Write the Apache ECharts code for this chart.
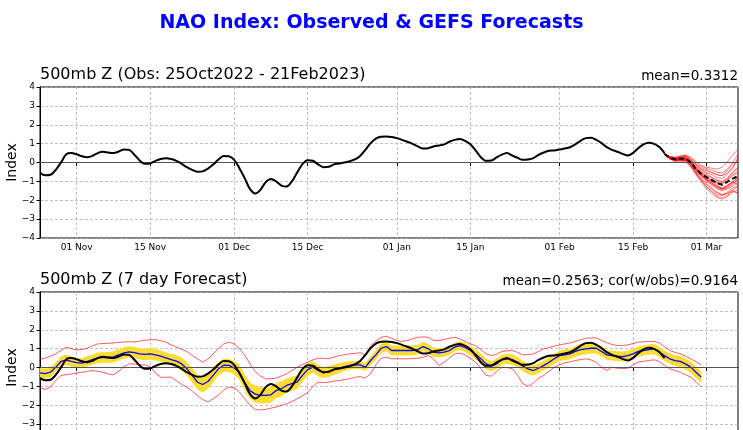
<!DOCTYPE html>
<html><head><meta charset="utf-8">
<script src="https://cdn.jsdelivr.net/npm/echarts@6/dist/echarts.min.js"></script>
<style>html,body{margin:0;padding:0;background:#fff}#c{width:743px;height:430px}</style>
</head><body><div id="c"></div>
<script>
// ---- axis / labels ----
const nDays = 134; // 25 Oct 2022 .. 07 Mar 2023
const tickLabels = ['01 Nov','15 Nov','01 Dec','15 Dec','01 Jan','15 Jan','01 Feb','15 Feb','01 Mar'];
const mainTitle = 'NAO Index: Observed & GEFS Forecasts';
const topTitle = '500mb Z (Obs: 25Oct2022 - 21Feb2023)';
const topStat = 'mean=0.3312';
const botTitle = '500mb Z (7 day Forecast)';
const botStat = 'mean=0.2563; cor(w/obs)=0.9164';

// ---- observed NAO (25 Oct .. 21 Feb) ----
const obs = [
-0.55,-0.68,-0.65,-0.39,0.0,0.44,0.5,0.43,0.33,0.28,
0.35,0.5,0.57,0.53,0.5,0.58,0.69,0.67,0.41,0.1,
-0.07,-0.05,0.09,0.19,0.23,0.19,0.09,-0.07,-0.25,-0.39,
-0.49,-0.47,-0.32,-0.11,0.16,0.34,0.33,0.14,-0.3,-0.83,
-1.4,-1.64,-1.45,-1.04,-0.87,-1.0,-1.22,-1.27,-1.0,-0.53,
-0.09,0.12,0.09,-0.1,-0.25,-0.23,-0.1,-0.05,0.0,0.07,
0.16,0.35,0.67,1.03,1.27,1.36,1.38,1.35,1.29,1.2,
1.1,0.99,0.85,0.74,0.76,0.85,0.9,0.96,1.1,1.2,
1.24,1.15,0.97,0.64,0.28,0.09,0.1,0.27,0.42,0.5,
0.37,0.25,0.14,0.16,0.23,0.41,0.53,0.62,0.64,0.69,
0.74,0.81,0.96,1.15,1.29,1.31,1.2,1.03,0.81,0.67,
0.57,0.46,0.37,0.51,0.76,0.96,1.04,0.99,0.82,0.5];

// ---- 7-day forecast verification (25 Oct .. 28 Feb) ----
const fcMean = [
-0.28,-0.33,-0.25,0.02,0.32,0.39,0.32,0.26,0.23,0.33,
0.42,0.51,0.53,0.53,0.56,0.67,0.78,0.83,0.79,0.72,
0.69,0.72,0.67,0.6,0.51,0.42,0.34,0.19,-0.07,-0.42,
-0.78,-0.9,-0.74,-0.42,-0.07,0.12,0.11,-0.02,-0.25,-0.78,
-1.22,-1.41,-1.48,-1.48,-1.45,-1.22,-1.13,-0.95,-0.86,-0.78,
-0.42,-0.11,0.02,-0.16,-0.28,-0.21,-0.12,-0.04,0.05,0.11,
0.14,0.14,0.02,0.37,0.67,1.02,1.11,0.9,0.9,0.9,
0.9,0.9,0.95,1.11,0.99,0.81,0.78,0.81,0.9,1.08,
1.16,1.06,0.9,0.7,0.47,0.19,0.07,0.19,0.41,0.46,
0.42,0.28,0.07,-0.07,-0.16,-0.04,0.11,0.28,0.46,0.63,
0.67,0.72,0.85,0.95,0.99,1.02,1.02,0.85,0.67,0.63,
0.6,0.58,0.63,0.72,0.85,0.9,0.95,0.99,0.81,0.63,
0.46,0.37,0.32,0.19,0.02,-0.25,-0.51];

const bandHalf = [
0.27,0.27,0.26,0.26,0.27,0.27,0.27,0.26,0.26,0.26,
0.27,0.28,0.28,0.29,0.3,0.3,0.3,0.3,0.3,0.3,
0.3,0.3,0.3,0.3,0.3,0.3,0.32,0.34,0.36,0.38,
0.4,0.42,0.4,0.38,0.36,0.35,0.35,0.36,0.4,0.42,
0.44,0.44,0.43,0.42,0.42,0.4,0.4,0.38,0.37,0.36,
0.35,0.33,0.3,0.3,0.29,0.29,0.28,0.26,0.24,0.22,
0.2,0.2,0.22,0.24,0.25,0.25,0.25,0.26,0.26,0.26,
0.26,0.26,0.25,0.25,0.25,0.25,0.24,0.24,0.23,0.23,
0.23,0.24,0.25,0.26,0.27,0.27,0.27,0.27,0.27,0.27,
0.27,0.27,0.27,0.27,0.26,0.26,0.26,0.27,0.27,0.27,
0.28,0.28,0.29,0.29,0.29,0.29,0.28,0.27,0.26,0.26,
0.26,0.26,0.26,0.26,0.27,0.27,0.27,0.27,0.27,0.27,
0.28,0.28,0.29,0.29,0.3,0.3,0.3];

const redUpper = [
0.42,0.5,0.6,0.72,0.9,1.08,1.0,0.93,0.95,1.02,
1.15,1.25,1.27,1.28,1.3,1.33,1.35,1.37,1.35,1.4,
1.45,1.47,1.48,1.42,1.34,1.2,1.08,0.97,0.85,0.65,
0.46,0.28,0.45,0.72,1.0,1.25,1.34,1.25,1.02,0.65,
0.2,-0.2,-0.45,-0.6,-0.6,-0.56,-0.45,-0.34,-0.15,0.02,
0.15,0.28,0.4,0.49,0.48,0.46,0.55,0.63,0.68,0.72,
0.75,0.78,0.67,1.16,1.4,1.6,1.66,1.55,1.43,1.38,
1.43,1.52,1.6,1.62,1.6,1.43,1.43,1.48,1.55,1.6,
1.52,1.38,1.25,1.15,0.95,0.72,0.63,0.7,0.85,0.88,
0.9,0.8,0.67,0.68,0.72,0.85,0.99,1.06,1.13,1.2,
1.25,1.3,1.38,1.47,1.55,1.57,1.57,1.43,1.31,1.22,
1.16,1.16,1.2,1.27,1.34,1.36,1.38,1.38,1.31,1.1,
0.9,0.8,0.72,0.6,0.46,0.3,0.14];

const redLower = [
-1.09,-1.16,-1.04,-0.69,-0.42,-0.38,-0.34,-0.3,-0.25,-0.2,
-0.16,-0.2,-0.25,-0.35,-0.38,-0.2,0.05,0.19,0.18,0.15,
0.14,0.05,-0.3,-0.51,-0.52,-0.51,-0.7,-0.9,-1.05,-1.25,
-1.48,-1.7,-1.83,-1.65,-1.45,-1.2,-1.04,-1.07,-1.3,-1.66,
-2.0,-2.22,-2.25,-2.22,-2.15,-2.1,-2.0,-1.92,-1.8,-1.66,
-1.5,-1.34,-1.0,-0.78,-0.8,-0.78,-0.72,-0.69,-0.65,-0.6,
-0.52,-0.48,-0.56,-0.34,0.14,0.49,0.55,0.46,0.46,0.46,
0.46,0.48,0.49,0.55,0.63,0.46,0.11,0.28,0.49,0.72,
0.76,0.67,0.49,0.28,-0.05,-0.42,-0.46,-0.21,0.02,0.0,
-0.07,-0.42,-0.86,-0.99,-0.83,-0.56,-0.42,-0.2,0.02,0.15,
0.25,0.3,0.37,0.42,0.46,0.4,0.28,0.02,-0.16,0.02,
-0.04,-0.05,-0.04,0.14,0.28,0.33,0.37,0.41,0.32,0.12,
-0.07,-0.16,-0.25,-0.38,-0.51,-0.75,-1.04];

// ---- GEFS ensemble from 21 Feb .. 07 Mar ----
const ensStart = 119;
const ensMean = [0.45,0.25,0.17,0.2,0.22,0.0,-0.35,-0.6,-0.78,-0.92,-1.1,-1.18,-1.02,-0.85,-0.72];
const members = [
[0.45,0.30,0.24,0.30,0.36,0.18,-0.12,-0.35,-0.45,-0.55,-0.65,-0.70,-0.40,-0.10,0.10],
[0.45,0.20,0.08,0.10,0.12,-0.18,-0.60,-0.95,-1.30,-1.50,-1.70,-1.75,-1.55,-1.35,-1.25],
[0.45,0.25,0.18,0.22,0.25,0.05,-0.30,-0.55,-0.70,-0.80,-0.95,-1.00,-0.80,-0.50,-0.30],
[0.45,0.18,0.06,0.08,0.04,-0.25,-0.65,-1.05,-1.40,-1.65,-1.85,-1.95,-1.80,-1.55,-1.45],
[0.45,0.32,0.28,0.34,0.40,0.28,0.05,-0.15,-0.25,-0.30,-0.35,-0.25,0.05,0.40,0.70],
[0.45,0.24,0.15,0.18,0.20,-0.02,-0.40,-0.70,-0.90,-1.05,-1.25,-1.35,-1.20,-1.00,-0.85],
[0.45,0.26,0.20,0.20,0.15,-0.05,-0.35,-0.62,-0.85,-1.00,-1.10,-1.15,-0.95,-0.70,-0.55],
[0.45,0.21,0.14,0.18,0.24,0.08,-0.25,-0.50,-0.75,-0.95,-1.20,-1.40,-1.35,-1.15,-0.95],
[0.45,0.28,0.21,0.27,0.32,0.15,-0.10,-0.28,-0.40,-0.52,-0.65,-0.70,-0.55,-0.25,0.15],
[0.45,0.22,0.11,0.12,0.08,-0.18,-0.55,-0.88,-1.18,-1.40,-1.60,-1.70,-1.62,-1.45,-1.25],
[0.45,0.25,0.17,0.21,0.22,0.00,-0.38,-0.66,-0.95,-1.15,-1.35,-1.45,-1.30,-1.10,-0.90],
[0.45,0.31,0.26,0.32,0.38,0.24,0.00,-0.20,-0.32,-0.40,-0.52,-0.55,-0.35,0.00,0.45],
[0.45,0.22,0.16,0.19,0.21,-0.03,-0.42,-0.72,-1.00,-1.20,-1.40,-1.50,-1.40,-1.25,-1.05],
[0.45,0.24,0.18,0.20,0.19,-0.05,-0.33,-0.58,-0.80,-0.95,-1.05,-1.10,-0.90,-0.65,-0.45],
[0.45,0.19,0.09,0.10,0.10,-0.14,-0.52,-0.95,-1.28,-1.55,-1.78,-1.88,-1.72,-1.55,-1.60],
[0.45,0.27,0.21,0.23,0.26,0.08,-0.22,-0.45,-0.62,-0.78,-0.95,-1.05,-0.85,-0.55,-0.25],
[0.45,0.23,0.15,0.17,0.17,-0.06,-0.40,-0.68,-0.92,-1.10,-1.30,-1.40,-1.25,-1.05,-0.75],
[0.45,0.29,0.22,0.26,0.30,0.14,-0.15,-0.38,-0.55,-0.65,-0.80,-0.85,-0.62,-0.30,0.30],
[0.45,0.24,0.16,0.19,0.20,-0.02,-0.36,-0.64,-0.88,-1.08,-1.28,-1.38,-1.22,-1.02,-1.20],
[0.45,0.21,0.12,0.14,0.12,-0.12,-0.50,-0.82,-1.12,-1.35,-1.58,-1.72,-1.65,-1.48,-1.65]];

// ---- build ----
const months=['Jan','Feb','Mar','Apr','May','Jun','Jul','Aug','Sep','Oct','Nov','Dec'];
const cats=[];
for(let i=0;i<nDays;i++){const dt=new Date(Date.UTC(2022,9,25+i));cats.push(String(dt.getUTCDate()).padStart(2,'0')+' '+months[dt.getUTCMonth()]);}
const pad=(arr,start)=>cats.map((_,i)=>(i>=start&&i-start<arr.length)?arr[i-start]:'-');
const isTick=(idx,val)=>tickLabels.indexOf(val)>=0;
const FONT='DejaVu Sans';
const fmtY=v=>v<0?'\u2212'+(-v):String(v);

function xAx(gi){return {type:'category',gridIndex:gi,data:cats,boundaryGap:false,
  axisLine:{show:true,lineStyle:{color:'#000',width:1}},
  axisTick:{show:true,interval:isTick,length:3.5,lineStyle:{color:'#000'}},
  axisLabel:{show:true,interval:isTick,fontSize:9,color:'#000',margin:5,fontFamily:FONT},
  splitLine:{show:true,interval:isTick,lineStyle:{color:'#b0b0b0',type:[3,2],width:0.8}}};}
function yAx(gi){return {type:'value',gridIndex:gi,min:-4,max:4,interval:1,
  name:'Index',nameLocation:'middle',nameGap:21,nameRotate:90,nameMoveOverlap:false,
  nameTextStyle:{fontSize:14,color:'#000',fontFamily:FONT},
  axisLine:{show:true,lineStyle:{color:'#000',width:1}},
  axisTick:{show:true,length:3.5,lineStyle:{color:'#000'}},
  axisLabel:{fontSize:9,color:'#000',margin:5,formatter:fmtY,fontFamily:FONT},
  splitLine:{show:true,lineStyle:{color:'#b0b0b0',type:[3,2],width:0.8}}};}

const zeroLine={silent:true,symbol:'none',label:{show:false},lineStyle:{color:'#555',type:'solid',width:1},data:[{yAxis:0}]};

const series=[];
// top chart
members.forEach((m,k)=>series.push({type:'line',xAxisIndex:0,yAxisIndex:0,data:pad(m,ensStart),symbol:'none',
  lineStyle:{color:'rgba(255,0,0,0.7)',width:0.7},z:3,silent:true}));
series.push({type:'line',xAxisIndex:0,yAxisIndex:0,data:pad(obs,0),symbol:'none',smooth:0.3,
  lineStyle:{color:'#000',width:2},z:5,markLine:zeroLine});
series.push({type:'line',xAxisIndex:0,yAxisIndex:0,data:pad(ensMean,ensStart),symbol:'none',
  lineStyle:{color:'#000',width:2,type:[5,3]},z:6});
// bottom chart
const bandLow=fcMean.map((v,i)=>+(v-bandHalf[i]).toFixed(3));
const bandWidth=bandHalf.map(h=>+(2*h).toFixed(3));
series.push({type:'line',xAxisIndex:1,yAxisIndex:1,data:pad(bandLow,0),stack:'band',stackStrategy:'all',symbol:'none',
  lineStyle:{opacity:0,width:0},z:2,silent:true});
series.push({type:'line',xAxisIndex:1,yAxisIndex:1,data:pad(bandWidth,0),stack:'band',stackStrategy:'all',symbol:'none',
  lineStyle:{opacity:0,width:0},areaStyle:{color:'#FFDC30',opacity:1},z:2,silent:true});
series.push({type:'line',xAxisIndex:1,yAxisIndex:1,data:pad(redUpper,0),symbol:'none',lineStyle:{color:'rgba(255,0,0,0.8)',width:0.8},z:3});
series.push({type:'line',xAxisIndex:1,yAxisIndex:1,data:pad(redLower,0),symbol:'none',lineStyle:{color:'rgba(255,0,0,0.8)',width:0.8},z:3});
series.push({type:'line',xAxisIndex:1,yAxisIndex:1,data:pad(fcMean,0),symbol:'none',lineStyle:{color:'#0000ff',width:1.3},z:4,markLine:zeroLine});
series.push({type:'line',xAxisIndex:1,yAxisIndex:1,data:pad(obs,0),symbol:'none',smooth:0.3,lineStyle:{color:'#000',width:2},z:5});

const chart=echarts.init(document.getElementById('c'),null,{renderer:'canvas'});
chart.setOption({
  animation:false,backgroundColor:'#fff',
  textStyle:{fontFamily:FONT},
  title:[
    {text:mainTitle,left:'center',top:14,padding:0,textStyle:{color:'#0000ff',fontSize:19,fontWeight:'bold',fontFamily:FONT}},
    {text:topTitle,left:40,top:67,padding:0,textStyle:{color:'#000',fontSize:16,fontWeight:'normal',fontFamily:FONT}},
    {text:topStat,right:5,top:69,padding:0,textStyle:{color:'#000',fontSize:13.5,fontWeight:'normal',fontFamily:FONT}},
    {text:botTitle,left:40,top:272,padding:0,textStyle:{color:'#000',fontSize:16,fontWeight:'normal',fontFamily:FONT}},
    {text:botStat,right:5,top:274,padding:0,textStyle:{color:'#000',fontSize:13.5,fontWeight:'normal',fontFamily:FONT}}
  ],
  grid:[
    {left:40,top:87,width:698,height:151,show:true,borderColor:'#000',borderWidth:1,backgroundColor:'transparent',containLabel:false,outerBoundsMode:'none'},
    {left:40,top:292,width:698,height:151,show:true,borderColor:'#000',borderWidth:1,backgroundColor:'transparent',containLabel:false,outerBoundsMode:'none'}
  ],
  xAxis:[xAx(0),xAx(1)],
  yAxis:[yAx(0),yAx(1)],
  series:series
});
</script></body></html>
